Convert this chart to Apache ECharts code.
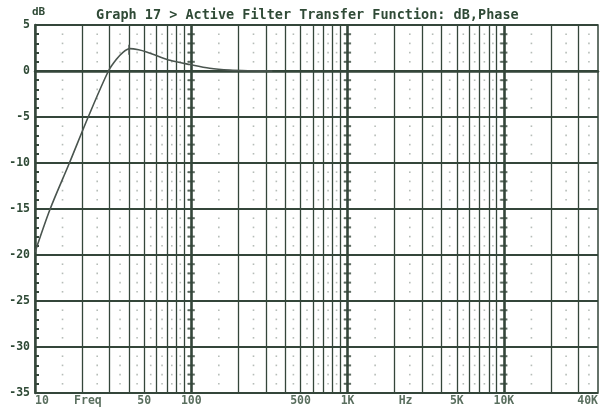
<!DOCTYPE html>
<html>
<head>
<meta charset="utf-8">
<script src="https://cdn.jsdelivr.net/npm/echarts@6/dist/echarts.min.js"></script>
<style>
  html, body { margin: 0; padding: 0; background: #ffffff; }
  #chart { width: 604px; height: 407px; }
</style>
</head>
<body>
<div id="chart"></div>
<script>
// Filter response: frequency (Hz) against gain (dB)
const freqHz = [10, 12.5, 16.6, 21.9, 29.5, 33.3, 36.7, 40.5, 46, 51.7, 61.4, 73, 98, 131, 176, 236, 330];
const gainDb = [-19.7, -15, -10, -5, 0, 1.3, 2.06, 2.43, 2.3, 2.06, 1.6, 1.16, 0.7, 0.3, 0.1, 0.03, 0];

// Cursor marker on the response
const cursorFreq = 40;
const cursorDb = 2.3;

// Bottom axis labels and where they sit
const xLabelFreqs = [10, 21.8, 50, 100, 500, 1000, 2350, 5000, 10000, 40000];
const xLabelTexts = ['10', 'Freq', '50', '100', '500', '1K', 'Hz', '5K', '10K', '40K'];
const xLabelAlign = ['left', 'center', 'center', 'center', 'center', 'center', 'center', 'center', 'center', 'right'];

// Vertical grid: multiples within each decade, and the decade lines
const multipleFreqs = [20, 30, 40, 50, 60, 70, 80, 90,
  200, 300, 400, 500, 600, 700, 800, 900,
  2000, 3000, 4000, 5000, 6000, 7000, 8000, 9000,
  20000, 30000];
const decadeFreqs = [100, 1000, 10000];

// Dot grid: half-way columns and 1 dB rows
const dotFreqs = [15, 25, 35, 45, 55, 65, 75, 85, 95,
  150, 250, 350, 450, 550, 650, 750, 850, 950,
  1500, 2500, 3500, 4500, 5500, 6500, 7500, 8500, 9500,
  15000, 25000, 35000];
const dotLevels = [4, 3, 2, 1, -1, -2, -3, -4, -6, -7, -8, -9, -11, -12, -13, -14,
  -16, -17, -18, -19, -21, -22, -23, -24, -26, -27, -28, -29, -31, -32, -33, -34];

const INK = '#2f4a36';
const LINE = '#34463a';
const FONT = '"DejaVu Sans Mono", "Liberation Mono", monospace';
const Y_MIN = -35;

const dots = [];
dotFreqs.forEach(f => dotLevels.forEach(d => dots.push([f, d])));
const dashes = [];
decadeFreqs.forEach(f => dotLevels.forEach(d => dashes.push([f, d])));

const chart = echarts.init(document.getElementById('chart'), null, { renderer: 'canvas' });

chart.setOption({
  backgroundColor: '#ffffff',
  animation: false,
  title: {
    text: 'Graph 17 > Active Filter Transfer Function: dB,Phase',
    left: 91, top: 3,
    textStyle: { fontFamily: FONT, fontWeight: 'bold', fontSize: 13.5, color: INK }
  },
  graphic: [{
    type: 'text', left: 32, top: 7,
    style: { text: 'dB', font: 'bold 11px ' + FONT, fill: INK }
  }],
  grid: {
    left: 35, right: 6, top: 25, bottom: 14,
    show: true, borderColor: LINE, borderWidth: 1.5, backgroundColor: 'transparent'
  },
  xAxis: {
    type: 'log', logBase: 10, min: 10, max: 40000,
    axisLine: { show: true, lineStyle: { color: LINE, width: 2.5 } },
    axisTick: { show: false },
    splitLine: { show: false },
    minorTick: { show: false },
    axisLabel: { show: false }
  },
  yAxis: {
    type: 'value', min: Y_MIN, max: 5, interval: 5,
    axisLine: { show: true, lineStyle: { color: LINE, width: 2.5 } },
    axisTick: { show: false, inside: true, length: 4 },
    minorTick: { show: true, splitNumber: 5, length: 4, lineStyle: { color: LINE, width: 2 } },
    splitLine: { show: true, lineStyle: { color: LINE, width: 2 } },
    axisLabel: {
      margin: 5,
      fontFamily: FONT, fontWeight: 'bold', fontSize: 11.5, color: INK
    }
  },
  series: [
    {
      type: 'scatter', silent: true, z: 1,
      data: dots, symbol: 'rect', symbolSize: 1.6,
      itemStyle: { color: '#a4aca6' }
    },
    {
      type: 'scatter', silent: true, z: 2,
      data: dashes, symbol: 'rect', symbolSize: [7, 2],
      itemStyle: { color: LINE }
    },
    {
      // frequency labels under the plot
      type: 'scatter', silent: true, z: 6, clip: false,
      symbolSize: 0,
      data: xLabelFreqs.map((f, i) => ({
        value: [f, Y_MIN],
        label: { formatter: xLabelTexts[i], align: xLabelAlign[i] }
      })),
      label: {
        show: true, position: 'bottom', distance: 2,
        fontFamily: FONT, fontWeight: 'bold', fontSize: 11.5, color: INK
      }
    },
    {
      type: 'line', silent: true, z: 2,
      data: [],
      markLine: {
        silent: true, symbol: 'none', label: { show: false },
        data: multipleFreqs.map(f => ({ xAxis: f, lineStyle: { color: LINE, width: 1.3, type: 'solid' } }))
          .concat(decadeFreqs.map(f => ({ xAxis: f, lineStyle: { color: LINE, width: 2.6, type: 'solid' } })))
      }
    },
    {
      type: 'line', z: 5,
      data: freqHz.map((f, i) => [f, gainDb[i]]),
      smooth: 0.3,
      showSymbol: false,
      lineStyle: { color: '#4a554f', width: 1.6 },
      markPoint: {
        silent: true,
        symbol: 'rect', symbolSize: [1.6, 10],
        itemStyle: { color: '#4a554f' },
        label: { show: false },
        data: [{ coord: [cursorFreq, cursorDb] }]
      }
    }
  ]
});
</script>
</body>
</html>
